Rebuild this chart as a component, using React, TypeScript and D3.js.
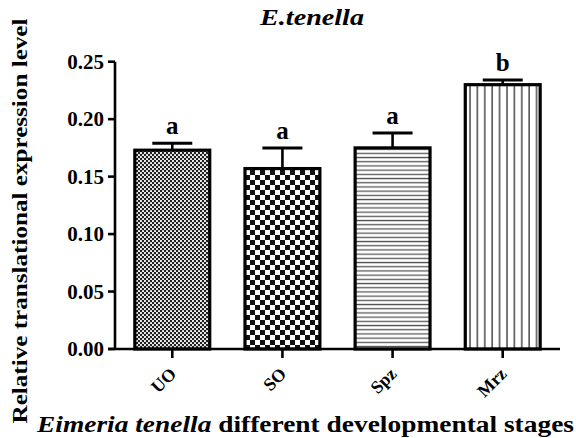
import React from "react";
import * as d3 from "d3";

// Relative translational expression across E. tenella stages
const categories = ["UO", "SO", "Spz", "Mrz"];
const means = [0.173, 0.157, 0.175, 0.23];
const sems = [0.006, 0.018, 0.013, 0.004];
const groupLetters = ["a", "a", "a", "b"];
const yTicks = [0, 0.05, 0.1, 0.15, 0.2, 0.25];
const patternIds = ["pat-dots", "pat-checker", "pat-hlines", "pat-vlines"];

const W = 576;
const H = 438;
const left = 115;
const right = 560;
const top = 61.7;
const bottom = 349;
const FONT = '"Liberation Serif", "Times New Roman", Times, serif';

export default function App() {
  const x = d3
    .scaleBand<string>()
    .domain(categories)
    .range([left, right])
    .paddingInner(0.32)
    .paddingOuter(0.18);
  const y = d3.scaleLinear().domain([0, 0.25]).range([bottom, top]);
  const bw = x.bandwidth();

  return (
    <svg
      width={W}
      height={H}
      viewBox={`0 0 ${W} ${H}`}
      style={{ position: "absolute", left: 0, top: 0, background: "#fff", fontFamily: FONT }}
    >
      <defs>
        <pattern id="pat-dots" width={4} height={4} patternUnits="userSpaceOnUse">
          <rect width={4} height={4} fill="#222" />
          <circle cx={1} cy={1} r={1.05} fill="#fff" />
          <circle cx={3} cy={3} r={1.05} fill="#fff" />
        </pattern>
        <pattern id="pat-checker" width={10} height={10} patternUnits="userSpaceOnUse">
          <rect width={10} height={10} fill="#fff" />
          <rect x={0} y={0} width={5} height={5} fill="#111" />
          <rect x={5} y={5} width={5} height={5} fill="#111" />
        </pattern>
        <pattern id="pat-hlines" width={8} height={4.2} patternUnits="userSpaceOnUse">
          <rect width={8} height={4.2} fill="#fff" />
          <rect x={0} y={1.5} width={8} height={1.3} fill="#555" />
        </pattern>
        <pattern id="pat-vlines" width={7.4} height={8} patternUnits="userSpaceOnUse">
          <rect width={7.4} height={8} fill="#fff" />
          <rect x={3} y={0} width={1.6} height={8} fill="#555" />
        </pattern>
      </defs>

      {/* title */}
      <text
        x={312}
        y={25}
        textAnchor="middle"
        fontSize={24}
        fontWeight="bold"
        fontStyle="italic"
        textLength={104}
        lengthAdjust="spacingAndGlyphs"
      >
        E.tenella
      </text>

      {/* bars */}
      {categories.map((c, i) => {
        const x0 = x(c)!;
        const yTop = y(means[i]);
        return (
          <rect
            key={c}
            x={x0}
            y={yTop}
            width={bw}
            height={bottom - yTop}
            fill={`url(#${patternIds[i]})`}
            stroke="#000"
            strokeWidth={3.2}
          />
        );
      })}

      {/* error bars and group letters */}
      {categories.map((c, i) => {
        const cx = x(c)! + bw / 2;
        const y1 = y(means[i]);
        const y2 = y(means[i] + sems[i]);
        return (
          <g key={c}>
            <line x1={cx} x2={cx} y1={y1} y2={y2} stroke="#000" strokeWidth={2.6} />
            <line x1={cx - 20} x2={cx + 20} y1={y2} y2={y2} stroke="#000" strokeWidth={3} />
            <text x={cx} y={y2 - 9} textAnchor="middle" fontSize={25} fontWeight="bold">
              {groupLetters[i]}
            </text>
          </g>
        );
      })}

      {/* y axis */}
      <line x1={left} x2={left} y1={top} y2={bottom} stroke="#000" strokeWidth={2.6} />
      {yTicks.map((t) => (
        <g key={t}>
          <line x1={left - 7} x2={left} y1={y(t)} y2={y(t)} stroke="#000" strokeWidth={2.6} />
          <text
            x={left - 11}
            y={y(t)}
            dy="0.34em"
            textAnchor="end"
            fontSize={21}
            fontWeight="bold"
          >
            {t.toFixed(2)}
          </text>
        </g>
      ))}

      {/* x axis */}
      <line x1={left - 7} x2={right} y1={bottom} y2={bottom} stroke="#000" strokeWidth={2.6} />
      {categories.map((c) => {
        const cx = x(c)! + bw / 2;
        return (
          <g key={c}>
            <line x1={cx} x2={cx} y1={bottom} y2={bottom + 9} stroke="#000" strokeWidth={2.6} />
            <text
              transform={`translate(${cx + 5},${bottom + 26}) rotate(-45)`}
              textAnchor="end"
              fontSize={18}
              fontWeight="bold"
            >
              {c}
            </text>
          </g>
        );
      })}

      {/* axis titles */}
      <text
        x={37}
        y={432}
        fontSize={23}
        fontWeight="bold"
        textLength={537}
        lengthAdjust="spacingAndGlyphs"
      >
        <tspan fontStyle="italic">Eimeria tenella</tspan> different developmental stages
      </text>
      <text
        transform={`translate(27,${221}) rotate(-90)`}
        textAnchor="middle"
        fontSize={22}
        fontWeight="bold"
        textLength={405}
        lengthAdjust="spacingAndGlyphs"
      >
        Relative translational expression level
      </text>
    </svg>
  );
}
